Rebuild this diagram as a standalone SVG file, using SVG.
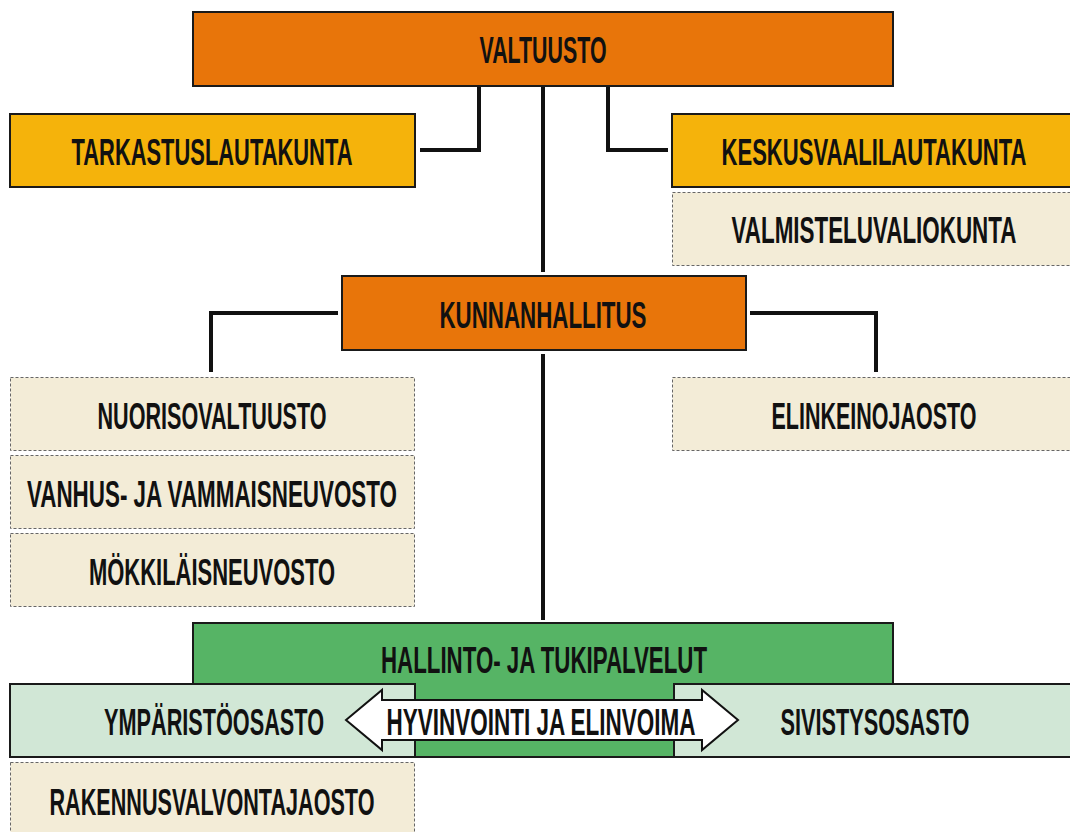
<svg xmlns="http://www.w3.org/2000/svg" width="1070" height="832" viewBox="0 0 1070 832">
<style>
.box{stroke:#1a1a1a;stroke-width:2}
.or{fill:#E8750A}
.ye{fill:#F5B30B}
.be{fill:#F3ECD7;stroke:#666;stroke-width:1;stroke-dasharray:3 2}
.gr{fill:#56B465}
.lg{fill:#D1E7D6}
.t{font-family:"Liberation Sans",Arial,sans-serif;font-weight:bold;font-size:37px;fill:#111;text-anchor:middle}
.c{fill:none;stroke:#111;stroke-width:4}
</style>
<rect width="1070" height="832" fill="#fff"/>
<g id="connectors">
<polyline class="c" points="479,86 479,150 420,150"/>
<line class="c" x1="543" y1="86" x2="543" y2="272"/>
<polyline class="c" points="608,86 608,150 668,150"/>
<polyline class="c" points="338,313 211,313 211,372"/>
<polyline class="c" points="750,313 876,313 876,372"/>
<line class="c" x1="543" y1="354" x2="543" y2="620"/>
</g>
<g id="valtuusto"><rect class="box or" x="193" y="12" width="700" height="74"/><text class="t" x="543" y="63" textLength="127" lengthAdjust="spacingAndGlyphs">VALTUUSTO</text></g>
<g id="tarkastuslautakunta"><rect class="box ye" x="10" y="114" width="405" height="73"/><text class="t" x="212" y="165" textLength="281" lengthAdjust="spacingAndGlyphs">TARKASTUSLAUTAKUNTA</text></g>
<g id="keskusvaalilautakunta"><rect class="box ye" x="672" y="114" width="402" height="73"/><text class="t" x="874" y="165" textLength="305" lengthAdjust="spacingAndGlyphs">KESKUSVAALILAUTAKUNTA</text></g>
<g id="valmisteluvaliokunta"><rect class="be" x="672.5" y="192.5" width="402" height="73"/><text class="t" x="874" y="243" textLength="285" lengthAdjust="spacingAndGlyphs">VALMISTELUVALIOKUNTA</text></g>
<g id="kunnanhallitus"><rect class="box or" x="342" y="276" width="404" height="74"/><text class="t" x="543" y="328" textLength="207" lengthAdjust="spacingAndGlyphs">KUNNANHALLITUS</text></g>
<g id="nuorisovaltuusto"><rect class="be" x="10.5" y="377.5" width="404" height="73"/><text class="t" x="212" y="429" textLength="229" lengthAdjust="spacingAndGlyphs">NUORISOVALTUUSTO</text></g>
<g id="vanhusneuvosto"><rect class="be" x="10.5" y="455.5" width="404" height="73"/><text class="t" x="212" y="507" textLength="370" lengthAdjust="spacingAndGlyphs">VANHUS- JA VAMMAISNEUVOSTO</text></g>
<g id="mokkilaisneuvosto"><rect class="be" x="10.5" y="533.5" width="404" height="73"/><text class="t" x="212" y="585" textLength="246" lengthAdjust="spacingAndGlyphs">MÖKKILÄISNEUVOSTO</text></g>
<g id="elinkeinojaosto"><rect class="be" x="672.5" y="377.5" width="402" height="73"/><text class="t" x="874" y="429" textLength="205" lengthAdjust="spacingAndGlyphs">ELINKEINOJAOSTO</text></g>
<g id="hallinto"><rect class="box gr" x="193" y="623" width="700" height="134"/><text class="t" x="544" y="673" textLength="326" lengthAdjust="spacingAndGlyphs">HALLINTO- JA TUKIPALVELUT</text></g>
<g id="ymparistoosasto"><rect class="box lg" x="10" y="684" width="405" height="73"/><text class="t" x="214" y="735" textLength="220" lengthAdjust="spacingAndGlyphs">YMPÄRISTÖOSASTO</text></g>
<g id="sivistysosasto"><rect class="box lg" x="674" y="684" width="400" height="73"/><text class="t" x="875" y="735" textLength="189" lengthAdjust="spacingAndGlyphs">SIVISTYSOSASTO</text></g>
<g id="hyvinvointi"><polygon points="346,720 382,690 382,700 702,700 702,690 738,720 702,750 702,740 382,740 382,750" fill="#fff" stroke="#111" stroke-width="2"/><text class="t" x="541" y="735" textLength="309" lengthAdjust="spacingAndGlyphs">HYVINVOINTI JA ELINVOIMA</text></g>
<g id="rakennusvalvontajaosto"><rect class="be" x="10.5" y="762.5" width="404" height="80"/><text class="t" x="212" y="815" textLength="325" lengthAdjust="spacingAndGlyphs">RAKENNUSVALVONTAJAOSTO</text></g>
</svg>
